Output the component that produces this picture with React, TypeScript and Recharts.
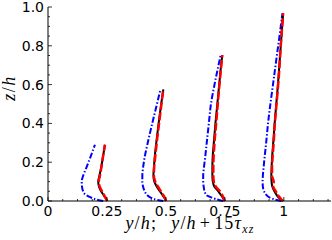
import React from "react";
import { LineChart, Line, XAxis, YAxis } from "recharts";

// stations sit at y/h = 0.25, 0.5, 0.75, 1; profiles are shifted by 15*tau_xz
const z1 = [0, 0.005, 0.015, 0.03, 0.05, 0.075, 0.1, 0.13, 0.17, 0.22, 0.29];
const blue1 = [0.234, 0.212, 0.188, 0.162, 0.149, 0.144, 0.143, 0.149, 0.162, 0.178, 0.199];
const black1 = [0.251, 0.249, 0.244, 0.236, 0.225, 0.216, 0.213, 0.218, 0.225, 0.232, 0.2415];
const red1 = [0.251, 0.249, 0.245, 0.238, 0.229, 0.219, 0.215, 0.22, 0.226, 0.232, 0.2415];

const z2 = [0, 0.005, 0.015, 0.03, 0.05, 0.075, 0.1, 0.13, 0.17, 0.22, 0.3, 0.4, 0.5, 0.575];
const blue2 = [0.489, 0.465, 0.44, 0.421, 0.41, 0.403, 0.4, 0.4, 0.403, 0.409, 0.423, 0.442, 0.462, 0.477];
const black2 = [0.5, 0.498, 0.494, 0.486, 0.474, 0.461, 0.451, 0.447, 0.449, 0.452, 0.459, 0.469, 0.48, 0.489];
const red2 = [0.5, 0.499, 0.496, 0.489, 0.479, 0.466, 0.455, 0.449, 0.45, 0.454, 0.461, 0.471, 0.481, 0.489];

const z3 = [0, 0.005, 0.015, 0.03, 0.05, 0.075, 0.1, 0.13, 0.17, 0.22, 0.3, 0.4, 0.5, 0.6, 0.7, 0.752];
const blue3 = [0.743, 0.725, 0.7, 0.672, 0.664, 0.66, 0.658, 0.658, 0.661, 0.666, 0.673, 0.682, 0.691, 0.706, 0.723, 0.732];
const black3 = [0.75, 0.747, 0.742, 0.734, 0.722, 0.705, 0.699, 0.697, 0.697, 0.698, 0.703, 0.71, 0.718, 0.726, 0.734, 0.739];
const red3 = [0.75, 0.748, 0.745, 0.739, 0.729, 0.711, 0.703, 0.701, 0.701, 0.702, 0.706, 0.713, 0.72, 0.727, 0.735, 0.739];

const z4 = [0, 0.005, 0.015, 0.03, 0.05, 0.075, 0.1, 0.13, 0.17, 0.22, 0.3, 0.4, 0.5, 0.6, 0.7, 0.8, 0.9, 0.967];
const blue4 = [0.99, 0.97, 0.945, 0.927, 0.916, 0.911, 0.91, 0.911, 0.914, 0.918, 0.925, 0.933, 0.943, 0.954, 0.965, 0.976, 0.987, 0.994];
const black4 = [0.997, 0.99, 0.98, 0.97, 0.96, 0.951, 0.948, 0.947, 0.948, 0.95, 0.955, 0.961, 0.968, 0.975, 0.981, 0.987, 0.993, 0.997];
const red4 = [0.997, 0.992, 0.985, 0.975, 0.966, 0.955, 0.957, 0.95, 0.95, 0.952, 0.957, 0.962, 0.969, 0.976, 0.982, 0.987, 0.993, 0.997];

const xMajorTicks = [0, 0.25, 0.5, 0.75, 1];
const xTickLabels = ["0", "0.25", "0.5", "0.75", "1"];
const xAllTicks = [
  0, 0.0625, 0.125, 0.1875, 0.25, 0.3125, 0.375, 0.4375, 0.5, 0.5625, 0.625,
  0.6875, 0.75, 0.8125, 0.875, 0.9375, 1, 1.0625, 1.125, 1.1875,
];
const yMajorTicks = [0, 0.2, 0.4, 0.6, 0.8, 1];
const yTickLabels = ["0.0", "0.2", "0.4", "0.6", "0.8", "1.0"];
const yAllTicks = [
  0, 0.05, 0.1, 0.15, 0.2, 0.25, 0.3, 0.35, 0.4, 0.45, 0.5, 0.55, 0.6, 0.65,
  0.7, 0.75, 0.8, 0.85, 0.9, 0.95, 1,
];

const pts = (z: number[], xs: number[]) => xs.map((x, i) => ({ x, z: z[i] }));

const stations = [
  { z: z1, blue: blue1, black: black1, red: red1 },
  { z: z2, blue: blue2, black: black2, red: red2 },
  { z: z3, blue: blue3, black: black3, red: red3 },
  { z: z4, blue: blue4, black: black4, red: red4 },
];

const FONT = "'DejaVu Sans', sans-serif";
const MATH = "'Liberation Serif', 'DejaVu Serif', serif";

const majorIdx = (list: number[], v: number) =>
  list.findIndex((m) => Math.abs(m - v) < 1e-6);

function BottomTick(props: any) {
  const { x, y, payload } = props;
  const i = majorIdx(xMajorTicks, payload.value);
  return (
    <g>
      <line x1={x} x2={x} y1={y} y2={y - (i >= 0 ? 4 : 2)} stroke="#000" strokeWidth={0.8} />
      {i >= 0 && (
        <text x={x} y={y + 5} dy="0.71em" textAnchor="middle" fontFamily={FONT} fontSize={14} fill="#000">
          {xTickLabels[i]}
        </text>
      )}
    </g>
  );
}

function TopTick(props: any) {
  const { x, y, payload } = props;
  const i = majorIdx(xMajorTicks, payload.value);
  return <line x1={x} x2={x} y1={y} y2={y + (i >= 0 ? 4 : 2)} stroke="#000" strokeWidth={0.8} />;
}

function LeftTick(props: any) {
  const { x, y, payload } = props;
  const i = majorIdx(yMajorTicks, payload.value);
  return (
    <g>
      <line x1={x} x2={x + (i >= 0 ? 4 : 2)} y1={y} y2={y} stroke="#000" strokeWidth={0.8} />
      {i >= 0 && (
        <text x={x - 4} y={y} dy="0.36em" textAnchor="end" fontFamily={FONT} fontSize={14} fill="#000">
          {yTickLabels[i]}
        </text>
      )}
    </g>
  );
}

function RightTick(props: any) {
  const { x, y, payload } = props;
  const i = majorIdx(yMajorTicks, payload.value);
  return <line x1={x} x2={x - (i >= 0 ? 4 : 2)} y1={y} y2={y} stroke="#000" strokeWidth={0.8} />;
}

const axisLine = { stroke: "#000", strokeWidth: 1 };

export default function App() {
  return (
    <div style={{ position: "absolute", left: 0, top: 0, width: 332, height: 240, background: "#fff" }}>
      <LineChart width={332} height={240} margin={{ top: 7, right: 1, bottom: 0, left: 0 }}>
        <XAxis
          xAxisId="bottom"
          type="number"
          dataKey="x"
          domain={[0, 1.2]}
          ticks={xAllTicks}
          interval={0}
          height={39}
          tickSize={0}
          tickMargin={0}
          tickLine={false}
          axisLine={axisLine}
          tick={<BottomTick />}
        />
        <XAxis
          xAxisId="top"
          orientation="top"
          type="number"
          dataKey="x"
          domain={[0, 1.2]}
          ticks={xAllTicks}
          interval={0}
          height={0}
          tickSize={0}
          tickMargin={0}
          tickLine={false}
          axisLine={axisLine}
          tick={<TopTick />}
        />
        <YAxis
          yAxisId="left"
          type="number"
          dataKey="z"
          domain={[0, 1]}
          ticks={yAllTicks}
          interval={0}
          width={48}
          tickSize={0}
          tickMargin={0}
          tickLine={false}
          axisLine={axisLine}
          tick={<LeftTick />}
        />
        <YAxis
          yAxisId="right"
          orientation="right"
          type="number"
          dataKey="z"
          domain={[0, 1]}
          ticks={yAllTicks}
          interval={0}
          width={0}
          tickSize={0}
          tickMargin={0}
          tickLine={false}
          axisLine={axisLine}
          tick={<RightTick />}
        />
        {stations.map((s, k) => (
          <Line
            key={`blue${k}`}
            xAxisId="bottom"
            yAxisId="left"
            data={pts(s.z, s.blue)}
            dataKey="z"
            type="monotoneY"
            stroke="#0000ff"
            strokeWidth={2}
            strokeDasharray="6 2 1.5 2"
            dot={false}
            activeDot={false}
            isAnimationActive={false}
          />
        ))}
        {stations.map((s, k) => (
          <Line
            key={`black${k}`}
            xAxisId="bottom"
            yAxisId="left"
            data={pts(s.z, s.black)}
            dataKey="z"
            type="monotoneY"
            stroke="#000000"
            strokeWidth={2}
            dot={false}
            activeDot={false}
            isAnimationActive={false}
          />
        ))}
        {stations.map((s, k) => (
          <Line
            key={`red${k}`}
            xAxisId="bottom"
            yAxisId="left"
            data={pts(s.z, s.red)}
            dataKey="z"
            type="monotoneY"
            stroke="#ff0000"
            strokeWidth={2.5}
            strokeDasharray="8 2.5"
            dot={false}
            activeDot={false}
            isAnimationActive={false}
          />
        ))}
      </LineChart>
      <svg width={332} height={240} style={{ position: "absolute", left: 0, top: 0, pointerEvents: "none" }}>
        <text x={190} y={229} textAnchor="middle" fontFamily={MATH} fontSize={18} letterSpacing={1.2} fill="#000">
          <tspan fontStyle="italic">y</tspan>
          <tspan>/</tspan>
          <tspan fontStyle="italic">h</tspan>
          <tspan>;</tspan>
          <tspan dx={14} fontStyle="italic">y</tspan>
          <tspan>/</tspan>
          <tspan fontStyle="italic">h</tspan>
          <tspan dx={3}>+</tspan>
          <tspan dx={3}>15</tspan>
          <tspan fontStyle="italic">τ</tspan>
          <tspan fontStyle="italic" fontSize={12} dy={4}>xz</tspan>
        </text>
        <text x={15} y={88} transform="rotate(-90 15 88)" textAnchor="middle" fontFamily={MATH} fontSize={18} letterSpacing={1.5} fill="#000">
          <tspan fontStyle="italic">z</tspan>
          <tspan>/</tspan>
          <tspan fontStyle="italic">h</tspan>
        </text>
      </svg>
    </div>
  );
}
